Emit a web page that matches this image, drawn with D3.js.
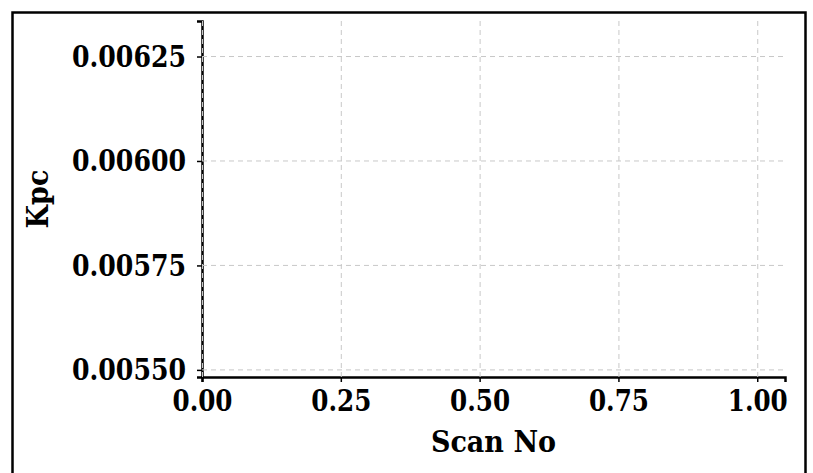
<!DOCTYPE html>
<html>
<head>
<meta charset="utf-8">
<script src="https://cdn.jsdelivr.net/npm/d3@7"></script>
<style>
  html, body { margin: 0; padding: 0; background: #fff; }
  #chart { width: 813px; height: 473px; }
  text { font-family: "DejaVu Serif Condensed", "DejaVu Serif", serif; font-weight: bold; }
</style>
</head>
<body>
<div id="chart"></div>
<script>
// axis limits and ticks
const xDomain = [0, 1.05];
const yDomain = [0.005483, 0.006335];
const xTicks = [0, 0.25, 0.5, 0.75, 1.0];
const yTicks = [0.0055, 0.00575, 0.006, 0.00625];
const xLabel = 'Scan No';
const yLabel = 'Kpc';

const width = 813, height = 473;
const margin = { top: 21, right: 28, bottom: 96, left: 202 };
const innerWidth = width - margin.left - margin.right;
const innerHeight = height - margin.top - margin.bottom;

const svg = d3.select('#chart').append('svg')
    .attr('width', width)
    .attr('height', height);

// figure frame (bottom edge falls below the window)
svg.append('path')
    .attr('d', `M12.5,${height} V12.5 H805.5 V${height}`)
    .attr('fill', 'none')
    .attr('stroke', '#000')
    .attr('stroke-width', 2.5);

const g = svg.append('g')
    .attr('transform', `translate(${margin.left},${margin.top})`);

const xScale = d3.scaleLinear().domain(xDomain).range([0, innerWidth]);
const yScale = d3.scaleLinear().domain(yDomain).range([innerHeight, 0]);

// axes
const xAxis = g.append('g')
    .attr('transform', `translate(0,${innerHeight})`)
    .call(d3.axisBottom(xScale).tickValues(xTicks).tickFormat(d3.format('.2f')).tickSizeOuter(0).tickSize(5).tickPadding(8));
const yAxis = g.append('g')
    .call(d3.axisLeft(yScale).tickValues(yTicks).tickFormat(d3.format('.5f')).tickSizeOuter(0).tickSize(5).tickPadding(11));

[xAxis, yAxis].forEach(a => {
    a.selectAll('text').attr('font-size', 30).attr('fill', '#000')
        .style('font-family', '"DejaVu Serif Condensed", "DejaVu Serif", serif').style('font-weight', 'bold');
    a.selectAll('.tick line').attr('stroke', '#000').attr('stroke-width', 1.5);
});
xAxis.selectAll('text').attr('textLength', 60).attr('lengthAdjust', 'spacingAndGlyphs');
yAxis.selectAll('text').attr('textLength', 114).attr('lengthAdjust', 'spacingAndGlyphs');
xAxis.select('.domain').attr('stroke', '#000').attr('stroke-width', 2.5);
yAxis.select('.domain').attr('stroke', '#000').attr('stroke-width', 2.5);

// grid on top
const grid = g.append('g');
grid.selectAll('.vgrid')
    .data(xTicks)
    .enter().append('line')
    .attr('x1', d => xScale(d) + 0.5).attr('x2', d => xScale(d) + 0.5)
    .attr('y1', 0).attr('y2', innerHeight)
    .attr('stroke', '#c8c8c8').attr('stroke-width', 1)
    .attr('stroke-dasharray', '5,4');
grid.selectAll('.hgrid')
    .data(yTicks)
    .enter().append('line')
    .attr('x1', 0).attr('x2', innerWidth)
    .attr('y1', d => yScale(d)).attr('y2', d => yScale(d))
    .attr('stroke', '#c8c8c8').attr('stroke-width', 1)
    .attr('stroke-dasharray', '5,4');

// axis labels
svg.append('text')
    .attr('x', margin.left + innerWidth / 2)
    .attr('y', 452)
    .attr('text-anchor', 'middle')
    .attr('font-size', 30)
    .attr('fill', '#000')
    .text(xLabel);

svg.append('text')
    .attr('transform', `translate(48,${margin.top + innerHeight / 2}) rotate(-90)`)
    .attr('text-anchor', 'middle')
    .attr('font-size', 30)
    .attr('fill', '#000')
    .text(yLabel);
</script>
</body>
</html>
